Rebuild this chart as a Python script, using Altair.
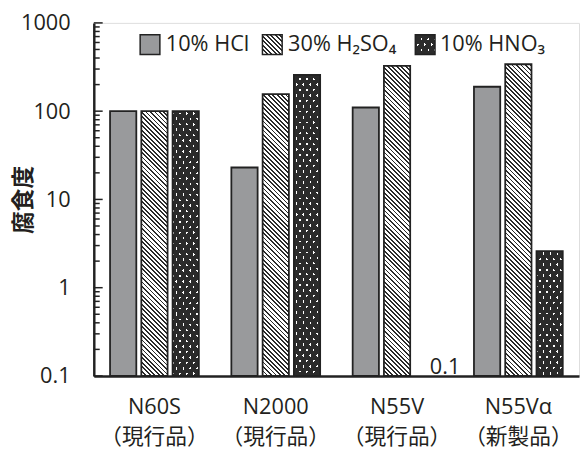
import math
import altair as alt

# ---------------- data ----------------
cats = ["N60S", "N2000", "N55V", "N55Vα"]
subs = ["（現行品）", "（現行品）", "（現行品）", "（新製品）"]
acids = ["10% HCl", "30% H₂SO₄", "10% HNO₃"]
hcl = [100, 23, 110, 189]
h2so4 = [100, 156, 325, 340]
hno3 = [100, 258, 0.1, 2.6]
yticks = [0.1, 1, 10, 100, 1000]

# ---------------- layout / style ----------------
W, H = 492, 358
PI, PO = 0.268, 0.134
OPI = 0.16
YMIN, YMAX = 0.1, 1000
FONT = "'Open Sans', 'Noto Sans CJK JP', sans-serif"
JFONT = "'Noto Sans CJK JP', sans-serif"
TXT = "#231f20"
EDGE = "#222222"
DARK = "#2b2b2b"
GRAY = "#999a9c"
CLEAR = "rgba(255,255,255,0)"

step = W / (len(cats) - PI + 2 * PO)
band = step * (1 - PI)
ostep = band / (len(acids) - OPI)
barw = ostep * (1 - OPI)


def bar_h(v):
    return H * (math.log10(v) - math.log10(YMIN)) / (math.log10(YMAX) - math.log10(YMIN))


def stripes(w, h, nvec, period, win, bg, fg, phase=0.0):
    nx, ny = nvec
    L = math.hypot(nx, ny)
    nx, ny = nx / L, ny / L
    R = abs(nx) * w + abs(ny) * h
    c = R / (nx * nx * w * w + ny * ny * h * h)
    x1 = 0.0 if nx >= 0 else 1.0
    y1 = 0.0 if ny >= 0 else 1.0
    x2 = x1 + c * nx * w
    y2 = y1 + c * ny * h
    stops = [{"offset": 0, "color": bg}]
    m = math.floor(-phase / period) - 1
    while True:
        a = phase + m * period
        b = a + win
        if a > R:
            break
        a2, b2 = max(a, 0.0), min(b, R)
        if b2 > a2:
            o1, o2 = round(a2 / R, 5), round(b2 / R, 5)
            stops += [{"offset": o1, "color": bg}, {"offset": o1, "color": fg},
                      {"offset": o2, "color": fg}, {"offset": o2, "color": bg}]
        m += 1
    stops.append({"offset": 1, "color": bg})
    return {"gradient": "linear", "x1": round(x1, 5), "y1": round(y1, 5),
            "x2": round(x2, 5), "y2": round(y2, 5), "stops": stops}


def hatch(w, h):
    return stripes(w, h, (1, -1), 3.2, 1.3, "white", DARK)


def dotsA(w, h):
    return stripes(w, h, (5.5, -3.5), 5.9, 1.7, DARK, CLEAR, 0.8)


def dotsB(w, h):
    return stripes(w, h, (5.5, 3.5), 5.9, 1.7, DARK, CLEAR, 0.8)


labels = [f"{c}|{s}" for c, s in zip(cats, subs)]
rows = []
for i, lab in enumerate(labels):
    for j, vals in enumerate([hcl, h2so4, hno3]):
        v = vals[i]
        h = bar_h(v)
        r = {"cat": lab, "acid": acids[j], "value": v}
        if h > 0.5:
            if j == 0:
                r["f1"] = GRAY
            elif j == 1:
                r["f1"] = hatch(barw, h)
            else:
                r["f1"] = "white"
                r["fa"] = dotsA(barw, h)
                r["fb"] = dotsB(barw, h)
        rows.append(r)

data = alt.Data(values=rows)

xscale = alt.Scale(domain=labels, paddingInner=PI, paddingOuter=PO)
oscale = alt.Scale(domain=acids, paddingInner=OPI, paddingOuter=0)
yscale = alt.Scale(type="log", domain=[YMIN, YMAX], nice=False)

xaxis = alt.Axis(orient="bottom", title=None, ticks=False, domain=True, domainColor=EDGE,
                 domainWidth=2.5, labelAngle=0, labelFontSize=22, labelFont=FONT,
                 labelColor=TXT, labelPadding=21, labelLineHeight=31, labelBaseline="top",
                 labelExpr="split(datum.label, '|')", grid=False)
yaxis = alt.Axis(orient="left", values=yticks, format="~g", ticks=False, domain=True,
                 domainColor=EDGE, domainWidth=2.5, labelFontSize=22, labelFont=FONT,
                 labelColor=TXT, labelPadding=24, grid=False, labelOverlap=False,
                 title="腐食度", titleFont=JFONT, titleFontSize=23, titleFontWeight="bold",
                 titleColor=TXT, titleX=-59, titleY=H / 2, titleAngle=270,
                 titleAlign="center", titleBaseline="bottom")

minor_ticks = []
major_ticks = []
for d in [0.1, 1, 10, 100]:
    major_ticks.append(d)
    for m in range(2, 10):
        minor_ticks.append(round(d * m, 6))
major_ticks.append(1000)

X = alt.X("cat:N", scale=xscale, axis=xaxis)
XO = alt.XOffset("acid:N", scale=oscale)
Y2 = alt.datum(YMIN)


def Y():
    return alt.Y("value:Q", scale=yscale, axis=yaxis)


base = alt.Chart(data)

fill1 = base.transform_filter("datum.value > 0.1").mark_bar(strokeWidth=0).encode(
    x=X, xOffset=XO, y=Y(), y2=Y2, fill=alt.Fill("f1:N", scale=None))
fillA = base.transform_filter("datum.value > 0.1 && isValid(datum.fa)").mark_bar(strokeWidth=0).encode(
    x=X, xOffset=XO, y=Y(), y2=Y2, fill=alt.Fill("fa:N", scale=None))
fillB = base.transform_filter("datum.value > 0.1 && isValid(datum.fb)").mark_bar(strokeWidth=0).encode(
    x=X, xOffset=XO, y=Y(), y2=Y2, fill=alt.Fill("fb:N", scale=None))
outline = base.transform_filter("datum.value > 0.1").mark_bar(
    fill="transparent", stroke=EDGE, strokeWidth=1.8).encode(x=X, xOffset=XO, y=Y(), y2=Y2)

minor_layer = alt.Chart(alt.Data(values=[{"value": t} for t in minor_ticks])).mark_rule(
    color=EDGE, strokeWidth=1.5).encode(y=Y(), x=alt.value(0), x2=alt.value(6))
major_layer = alt.Chart(alt.Data(values=[{"value": t} for t in major_ticks])).mark_rule(
    color=EDGE, strokeWidth=1.5).encode(y=Y(), x=alt.value(0), x2=alt.value(9))

zerolab = base.transform_filter("datum.value <= 0.1").mark_text(
    align="center", baseline="alphabetic", dx=17, dy=-2, fontSize=22, font=FONT,
    color=TXT).encode(x=X, xOffset=XO, y=Y(), text=alt.Text("value:Q", format="~g"))

# top frame line, drawn as a thin bar from the top of the y scale
topline = alt.Chart(alt.Data(values=[{"value": YMAX}])).mark_bar(
    fill=EDGE, strokeWidth=0).encode(
    y=Y(), y2=alt.value(2), x=alt.value(0), x2=alt.value(W + 3))

# ---------------- legend ----------------
LS = 20
lx = [47, 171, 326]
ly = 12
tx = [73, 197, 351]
leg_layers = []
for k, acid in enumerate(acids):
    ldata = alt.Data(values=[{"label": acid}])
    pos = dict(x=alt.value(lx[k]), x2=alt.value(lx[k] + LS), y=alt.value(ly), y2=alt.value(ly + LS))
    if k == 0:
        fills = [GRAY]
    elif k == 1:
        fills = [hatch(LS, LS)]
    else:
        fills = ["white", dotsA(LS, LS), dotsB(LS, LS)]
    for f in fills:
        leg_layers.append(alt.Chart(ldata).mark_rect(fill=f, strokeWidth=0).encode(**pos))
    leg_layers.append(alt.Chart(ldata).mark_rect(fill="transparent", stroke=EDGE,
                                                 strokeWidth=1.5).encode(**pos))
    leg_layers.append(alt.Chart(ldata).mark_text(
        align="left", baseline="middle", fontSize=22, font=FONT, color=TXT).encode(
        x=alt.value(tx[k]), y=alt.value(ly + LS / 2), text="label:N"))

chart = alt.layer(fill1, fillA, fillB, outline, minor_layer, major_layer,
                  zerolab, *leg_layers, topline).properties(
    width=W, height=H,
    autosize=alt.AutoSizeParams(type="none"),
    padding={"left": 87, "top": 12, "right": 1, "bottom": 74},
).configure_view(stroke=EDGE, strokeWidth=2, strokeDash=[W, H, W + H + 10]
                 ).configure(background="white")

chart.save("out.html", embed_options={"renderer": "svg", "actions": False})
